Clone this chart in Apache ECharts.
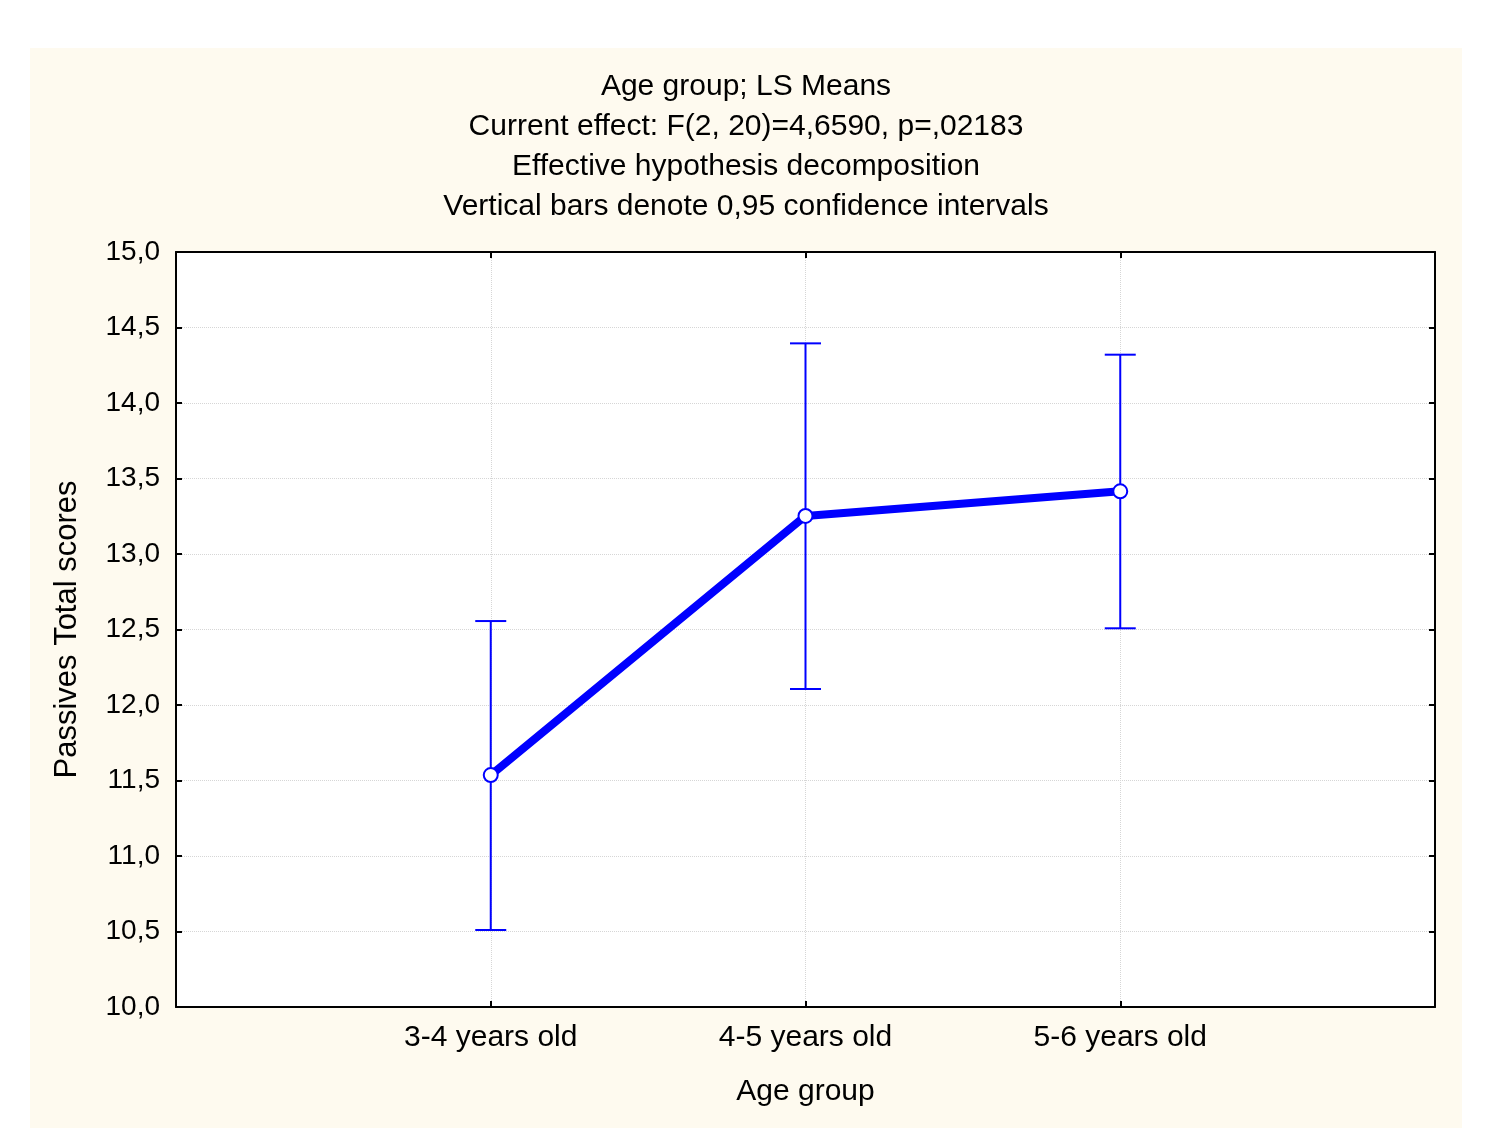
<!DOCTYPE html>
<html>
<head>
<meta charset="utf-8">
<script src="https://cdn.jsdelivr.net/npm/echarts@6/dist/echarts.min.js"></script>
<style>
  html, body { margin: 0; padding: 0; background: #fff; }
  #chart { width: 1503px; height: 1143px; }
</style>
</head>
<body>
<div id="chart"></div>
<script>
// data
const categories = ["3-4 years old", "4-5 years old", "5-6 years old"];
const xPos = [1, 2, 3];
const means = [11.536, 13.252, 13.415];
const ciLow = [10.51, 12.106, 12.508];
const ciHigh = [12.556, 14.395, 14.32];
const titleLines = [
  "Age group; LS Means",
  "Current effect: F(2, 20)=4,6590, p=,02183",
  "Effective hypothesis decomposition",
  "Vertical bars denote 0,95 confidence intervals",
];

const FONT = "'Liberation Sans', Arial, sans-serif";
const BLUE = "#0000ff";

const chart = echarts.init(document.getElementById("chart"), null, { renderer: "canvas" });

const fmtY = v => v.toFixed(1).replace(".", ",");

// title lines as graphic text
const titleGraphics = titleLines.map((t, i) => ({
  type: "text",
  x: 746, y: 87 + i * 40,
  z: 10,
  style: { text: t, fill: "#000", font: "30px " + FONT, align: "center", verticalAlign: "middle" },
}));

const axisLine = { show: true, onZero: false, lineStyle: { color: "#000", width: 2 } };
const tickIn = { show: true, inside: true, length: 6, lineStyle: { color: "#000", width: 2 } };
const xRange = { type: "value", min: 0, max: 4, interval: 1 };
const yRange = { type: "value", min: 10, max: 15, interval: 0.5 };
const grid = { show: true, lineStyle: { color: "#d6d6d6", type: "dotted", width: 1 } };

chart.setOption({
  backgroundColor: "#fff",
  animation: false,
  graphic: [
    { type: "rect", shape: { x: 30, y: 48, width: 1432, height: 1080 }, style: { fill: "#fefaef" }, z: -10 },
    ...titleGraphics,
  ],
  grid: {
    left: 176, top: 252, width: 1259, height: 755,
    show: true, backgroundColor: "#fff", borderWidth: 0,
  },
  xAxis: [
    {
      ...xRange, position: "bottom",
      axisLine,
      axisTick: tickIn,
      name: "Age group", nameLocation: "middle", nameGap: 70,
      nameTextStyle: { color: "#000", fontSize: 30, fontFamily: FONT },
      axisLabel: {
        color: "#000", fontSize: 30, fontFamily: FONT, margin: 16,
        formatter: v => categories[v - 1] || "",
      },
      splitLine: grid,
    },
    { ...xRange, position: "top", axisLine, axisTick: tickIn, axisLabel: { show: false }, splitLine: { show: false } },
  ],
  yAxis: [
    {
      ...yRange, position: "left",
      axisLine,
      axisTick: tickIn,
      name: "Passives Total scores", nameLocation: "middle", nameGap: 93, nameRotate: 90,
      nameTextStyle: { color: "#000", fontSize: 31, fontFamily: FONT },
      axisLabel: { color: "#000", fontSize: 28, fontFamily: FONT, margin: 16, formatter: fmtY },
      splitLine: grid,
    },
    { ...yRange, position: "right", axisLine, axisTick: tickIn, axisLabel: { show: false }, splitLine: { show: false } },
  ],
  series: [
    {
      // confidence interval bars
      type: "custom",
      z: 2,
      data: xPos.map((x, i) => [x, ciLow[i], ciHigh[i]]),
      renderItem: (params, api) => {
        const lo = api.coord([api.value(0), api.value(1)]);
        const hi = api.coord([api.value(0), api.value(2)]);
        const w = 15.5;
        const st = { stroke: BLUE, lineWidth: 2 };
        return {
          type: "group",
          children: [
            { type: "line", shape: { x1: lo[0], y1: lo[1], x2: hi[0], y2: hi[1] }, style: st },
            { type: "line", shape: { x1: lo[0] - w, y1: lo[1], x2: lo[0] + w, y2: lo[1] }, style: st },
            { type: "line", shape: { x1: hi[0] - w, y1: hi[1], x2: hi[0] + w, y2: hi[1] }, style: st },
          ],
        };
      },
    },
    {
      type: "line",
      z: 3,
      data: xPos.map((x, i) => [x, means[i]]),
      lineStyle: { color: BLUE, width: 8 },
      symbol: "circle",
      symbolSize: 14,
      itemStyle: { color: "#fff", borderColor: BLUE, borderWidth: 2 },
    },
  ],
});
</script>
</body>
</html>
